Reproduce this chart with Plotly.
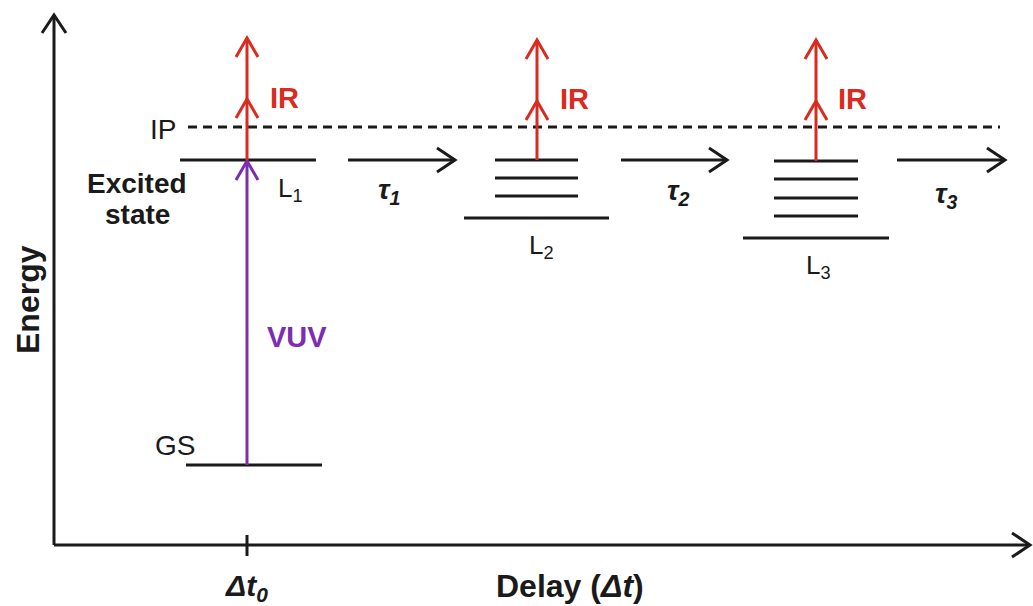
import plotly.graph_objects as go

# ---------------- data (plot units: x = delay position, y = energy position, y axis reversed) ----
delay_positions = [247, 537, 816]               # x of each snapshot (Δt0, then later delays)
level_names = ["L<sub>1</sub>", "L<sub>2</sub>", "L<sub>3</sub>"]
level_label_pos = [(290, 189), (541, 246), (818, 266)]

# manifold of each snapshot: (x_start, x_end, [y levels])
sublevel_x = [(180, 316), (495, 578), (774, 858)]
sublevel_y = [[160], [160, 178, 196], [161, 179, 198, 216]]
base_level_x = [None, (464, 609), (743, 889)]
base_level_y = [None, 218, 238]

ground_state_y = 465
ground_state_x = (186, 322)
ionization_y = 127
ionization_x = (188, 1000)

ir_top_y = [38, 40, 40]
ir_mid_head_y = [99, 101, 101]
ir_labels_pos = [(284, 98), (574, 99), (852, 99)]

tau_arrow_x = [(348, 455), (621, 727), (897, 1005)]
tau_arrow_y = 160
tau_labels = ["τ<sub>1</sub>", "τ<sub>2</sub>", "τ<sub>3</sub>"]
tau_label_pos = [(389, 191), (678, 192), (946, 195)]

axis_origin = (54, 545)
axis_x_end = 1030
axis_y_end = 15

BLACK = "#1a1a1a"
RED = "#d92b20"
PURPLE = "#7d2db2"
FONT = "Liberation Sans, Arial, sans-serif"

fig = go.Figure()


def seg(xs, ys, color=BLACK, width=3, dash="solid"):
    fig.add_trace(go.Scatter(x=list(xs), y=list(ys), mode="lines",
                             line=dict(color=color, width=width, dash=dash),
                             hoverinfo="skip", showlegend=False))


def chevron(x, y, direction, color=BLACK, L=18, H=12, width=3):
    if direction == "up":
        xs, ys = [x - H, x, x + H], [y + L, y, y + L]
    else:  # right
        xs, ys = [x - L, x, x - L], [y - H, y, y + H]
    fig.add_trace(go.Scatter(x=xs, y=ys, mode="lines",
                             line=dict(color=color, width=width),
                             hoverinfo="skip", showlegend=False))


# axes
ox, oy = axis_origin
seg([ox, ox], [oy, axis_y_end])
chevron(ox, axis_y_end, "up")
seg([ox, axis_x_end], [oy, oy])
chevron(axis_x_end, oy, "right")
seg([delay_positions[0]] * 2, [oy - 10, oy + 11])

# ionization potential
seg(ionization_x, [ionization_y] * 2, dash="9px,6px")

# ground state
seg(ground_state_x, [ground_state_y] * 2)

# levels
for i in range(3):
    for y in sublevel_y[i]:
        seg(sublevel_x[i], [y, y])
    if base_level_x[i] is not None:
        seg(base_level_x[i], [base_level_y[i]] * 2)

# VUV excitation
x0 = delay_positions[0]
seg([x0, x0], [ground_state_y, sublevel_y[0][0] + 1], color=PURPLE)
chevron(x0, sublevel_y[0][0] + 1, "up", color=PURPLE, L=19, H=11)

# IR probes
for i, x in enumerate(delay_positions):
    seg([x, x], [sublevel_y[i][0], ir_top_y[i]], color=RED)
    chevron(x, ir_top_y[i], "up", color=RED, L=19, H=11)
    chevron(x, ir_mid_head_y[i], "up", color=RED, L=19, H=11)

# tau arrows
for (xa, xb) in tau_arrow_x:
    seg([xa, xb], [tau_arrow_y] * 2)
    chevron(xb, tau_arrow_y, "right")

ann = []


def text(x, y, t, size=26, color=BLACK, angle=0):
    ann.append(dict(x=x, y=y, text=t, showarrow=False, xanchor="center",
                    yanchor="middle", textangle=angle,
                    font=dict(family=FONT, size=size, color=color)))


text(163, 129, "IP", 28)
text(137, 183, "<b>Excited</b>", 28)
text(137, 214, "<b>state</b>", 28)
text(175, 445, "GS", 28)
text(297, 337, "<b>VUV</b>", 29, PURPLE)
for (x, y) in ir_labels_pos:
    text(x, y, "<b>IR</b>", 29, RED)
for name, (x, y) in zip(level_names, level_label_pos):
    text(x, y, name, 26)
for t, (x, y) in zip(tau_labels, tau_label_pos):
    text(x, y, "<b><i>" + t + "</i></b>", 28)
text(28, 300, "<b>Energy</b>", 32, angle=-90)
text(570, 586, "<b>Delay (<i>Δt</i>)</b>", 32)
text(246, 587, "<b><i>Δt<sub>0</sub></i></b>", 30)

fig.update_layout(
    width=1033, height=606,
    margin=dict(l=0, r=0, t=0, b=0),
    paper_bgcolor="white", plot_bgcolor="white",
    xaxis=dict(range=[0, 1033], visible=False, fixedrange=True),
    yaxis=dict(range=[606, 0], visible=False, fixedrange=True),
    annotations=ann,
    showlegend=False,
)

fig.write_html("out.html")
